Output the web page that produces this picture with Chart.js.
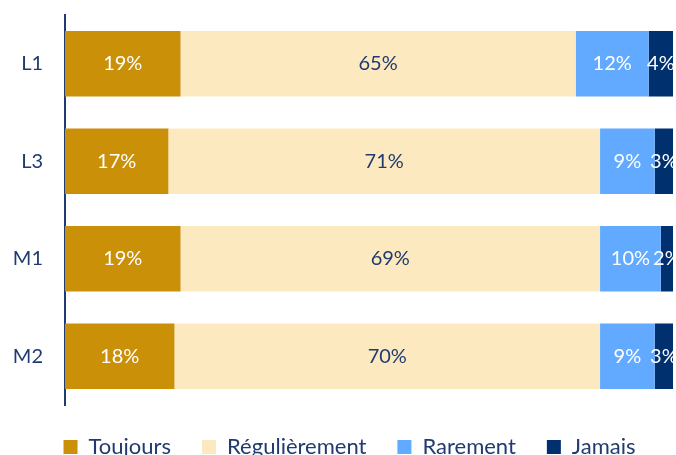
<!DOCTYPE html>
<html>
<head>
<meta charset="utf-8">
<script src="https://cdn.jsdelivr.net/npm/chart.js@4"></script>
<style>
  body { margin: 0; background: #fff; }
  #wrap { width: 676px; height: 455px; }
</style>
</head>
<body>
<div id="wrap"><canvas id="chart"></canvas></div>
<script>
var categories = ["L1", "L3", "M1", "M2"];
var toujours = [19, 17, 19, 18];
var regulierement = [65, 71, 69, 70];
var rarement = [12, 9, 10, 9];
var jamais = [4, 3, 2, 3];

var textBlue = "#1F3B70";

// draw the % inside each segment
var segmentLabels = {
    id: "segmentLabels",
    afterDatasetsDraw: function (chart) {
        var ctx = chart.ctx;
        ctx.save();
        ctx.font = "20px Lato";
        ctx.textAlign = "center";
        ctx.textBaseline = "middle";
        chart.data.datasets.forEach(function (ds, i) {
            var meta = chart.getDatasetMeta(i);
            meta.data.forEach(function (bar, j) {
                var cx = (bar.x + bar.base) / 2;
                ctx.fillStyle = ds.labelColor;
                ctx.fillText(ds.data[j] + "%", cx, bar.y);
            });
        });
        ctx.restore();
    }
};

// the legend sits a bit right of the canvas centre
var legendShift = {
    id: "legendShift",
    afterLayout: function (chart) {
        chart.legend.left += 13;
        chart.legend.right += 13;
    }
};

var ctx = document.getElementById("chart").getContext("2d");
var chart = new Chart(ctx, {
    type: "bar",
    data: {
        labels: categories,
        datasets: [{
            label: "Toujours",
            data: toujours,
            backgroundColor: "#C99008",
            labelColor: "#ffffff"
        }, {
            label: "Régulièrement",
            data: regulierement,
            backgroundColor: "#FDE9BF",
            labelColor: textBlue
        }, {
            label: "Rarement",
            data: rarement,
            backgroundColor: "#62AAFF",
            labelColor: "#ffffff"
        }, {
            label: "Jamais",
            data: jamais,
            backgroundColor: "#00306E",
            labelColor: "#ffffff"
        }]
    },
    options: {
        indexAxis: "y",
        responsive: true,
        maintainAspectRatio: false,
        animation: false,
        layout: { padding: { top: 15, right: 3, left: 0, bottom: 0 } },
        datasets: { bar: { categoryPercentage: 0.67, barPercentage: 1 } },
        scales: {
            x: {
                stacked: true,
                display: false,
                min: 0,
                max: 100
            },
            y: {
                stacked: true,
                grid: { display: false, drawTicks: false },
                border: { color: "#1F3B70", width: 2 },
                ticks: {
                    color: textBlue,
                    font: { family: "Lato", size: 20 },
                    padding: 22
                },
                afterFit: function (scale) {
                    scale.width = 65;
                    scale.paddingTop = 0;
                    scale.paddingBottom = 0;
                }
            }
        },
        plugins: {
            legend: {
                position: "bottom",
                maxHeight: 50,
                labels: {
                    color: textBlue,
                    font: { family: "Lato", size: 22 },
                    boxWidth: 14,
                    boxHeight: 14,
                    padding: 31
                }
            },
            tooltip: { enabled: false }
        }
    },
    plugins: [segmentLabels, legendShift]
});
</script>
</body>
</html>
